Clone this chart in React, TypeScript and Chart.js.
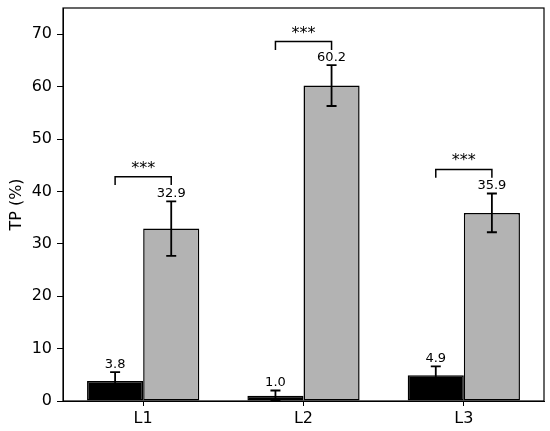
import { useEffect, useRef } from 'react';
import { Chart, registerables } from 'chart.js';

Chart.register(...registerables);

const categories = ['L1', 'L2', 'L3'];
const controlValues = [3.8, 1.0, 4.9];
const controlErrors = [1.7, 1.0, 1.7];
const treatedValues = [32.9, 60.2, 35.9];
const treatedErrors = [5.2, 3.9, 3.7];
const bracketHeights = [42.8, 68.6, 44.2];
const bracketDrops = [1.6, 1.6, 1.6];
const significance = ['***', '***', '***'];
const yTickValues = [0, 10, 20, 30, 40, 50, 60, 70];
const yMax = 75;

const FONT = '"DejaVu Sans", sans-serif';

const overlayPlugin = {
  id: 'overlay',
  afterDatasetsDraw(chart: any) {
    const ctx = chart.ctx as CanvasRenderingContext2D;
    const yScale = chart.scales.y;
    const vals = [controlValues, treatedValues];
    const errs = [controlErrors, treatedErrors];
    ctx.save();
    ctx.strokeStyle = '#000';
    ctx.fillStyle = '#000';
    ctx.lineCap = 'butt';
    for (let d = 0; d < 2; d++) {
      const meta = chart.getDatasetMeta(d);
      meta.data.forEach((el: any, i: number) => {
        const v = vals[d][i];
        const e = errs[d][i];
        const x = el.x;
        const yt = yScale.getPixelForValue(v + e);
        const yb = yScale.getPixelForValue(Math.max(0, v - e));
        ctx.lineWidth = 1.8;
        ctx.beginPath();
        ctx.moveTo(x, yt);
        ctx.lineTo(x, yb);
        ctx.moveTo(x - 5, yt);
        ctx.lineTo(x + 5, yt);
        ctx.moveTo(x - 5, yb);
        ctx.lineTo(x + 5, yb);
        ctx.stroke();
        ctx.font = `13px ${FONT}`;
        ctx.textAlign = 'center';
        ctx.textBaseline = 'alphabetic';
        ctx.fillText(v.toFixed(1), x, yt - 4.5);
      });
    }
    const m0 = chart.getDatasetMeta(0);
    const m1 = chart.getDatasetMeta(1);
    categories.forEach((_, i) => {
      const x1 = m0.data[i].x;
      const x2 = m1.data[i].x;
      const yTop = yScale.getPixelForValue(bracketHeights[i]);
      const yLeg = yScale.getPixelForValue(bracketHeights[i] - bracketDrops[i]);
      ctx.lineWidth = 1.5;
      ctx.beginPath();
      ctx.moveTo(x1, yLeg);
      ctx.lineTo(x1, yTop);
      ctx.lineTo(x2, yTop);
      ctx.lineTo(x2, yLeg);
      ctx.stroke();
      ctx.font = `16px ${FONT}`;
      ctx.textAlign = 'center';
      ctx.textBaseline = 'alphabetic';
      ctx.fillText(significance[i], (x1 + x2) / 2, yTop - 4);
    });
    const a = chart.chartArea;
    ctx.lineWidth = 1.2;
    ctx.strokeStyle = '#000';
    ctx.strokeRect(a.left, a.top, a.right - a.left, a.bottom - a.top);
    ctx.restore();
  },
};

export default function App() {
  const canvasRef = useRef<HTMLCanvasElement | null>(null);

  useEffect(() => {
    document.body.style.margin = '0';
    const canvas = canvasRef.current;
    if (!canvas) return;
    const chart = new Chart(canvas, {
      type: 'bar',
      data: {
        labels: categories,
        datasets: [
          {
            label: 'Control',
            data: controlValues,
            backgroundColor: '#000000',
            borderColor: '#000000',
            borderWidth: 1.5,
            borderSkipped: false,
            categoryPercentage: 0.7,
            barPercentage: 1.0,
          },
          {
            label: 'Treated',
            data: treatedValues,
            backgroundColor: '#b3b3b3',
            borderColor: '#000000',
            borderWidth: 1.5,
            borderSkipped: false,
            categoryPercentage: 0.7,
            barPercentage: 1.0,
          },
        ],
      },
      options: {
        animation: false,
        responsive: true,
        maintainAspectRatio: false,
        devicePixelRatio: 1,
        layout: { padding: { left: 0, right: 6, top: 8, bottom: 0 } },
        plugins: {
          legend: { display: false },
          tooltip: { enabled: false },
        },
        scales: {
          x: {
            offset: true,
            grid: {
              display: true,
              drawOnChartArea: false,
              offset: false,
              tickLength: 5,
              tickColor: '#000',
              tickWidth: 1,
            },
            border: { display: true, color: '#000', width: 1 },
            ticks: { color: '#000', font: { family: FONT, size: 16 }, padding: 3 },
            afterFit: (scale: any) => {
              scale.height = 30;
              scale.paddingLeft = 0;
              scale.paddingRight = 0;
            },
          },
          y: {
            min: 0,
            max: yMax,
            grid: {
              display: true,
              drawOnChartArea: false,
              tickLength: 6,
              tickColor: '#000',
              tickWidth: 1,
            },
            border: { display: true, color: '#000', width: 1 },
            ticks: { color: '#000', font: { family: FONT, size: 16 }, padding: 5 },
            afterBuildTicks: (axis: any) => {
              axis.ticks = yTickValues.map((v) => ({ value: v }));
            },
            afterFit: (scale: any) => {
              scale.width = 63;
              scale.paddingTop = 0;
              scale.paddingBottom = 0;
            },
            title: {
              display: true,
              text: 'TP (%)',
              color: '#000',
              font: { family: FONT, size: 16 },
              padding: { top: 7, bottom: 0 },
            },
          },
        },
      },
      plugins: [overlayPlugin],
    });
    return () => chart.destroy();
  }, []);

  return (
    <div style={{ width: 550, height: 431, position: 'relative' }}>
      <canvas ref={canvasRef} />
    </div>
  );
}
